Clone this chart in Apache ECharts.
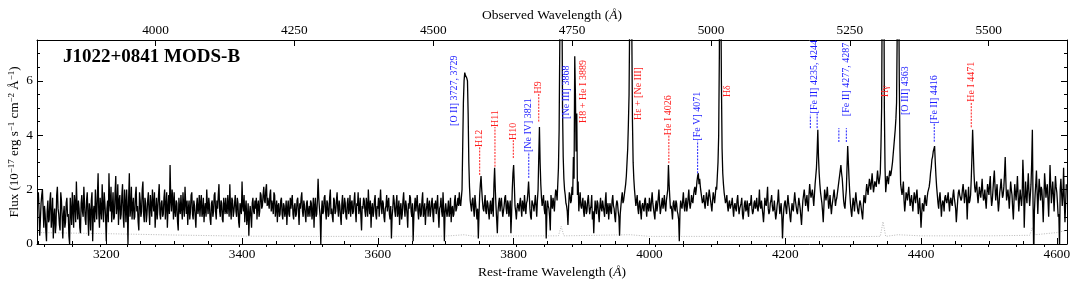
<!DOCTYPE html>
<html><head><meta charset="utf-8">
<script src="https://cdn.jsdelivr.net/npm/echarts@6/dist/echarts.min.js"></script>
<style>html,body{margin:0;padding:0;background:#fff}#c{width:1080px;height:288px}</style>
</head><body><div id="c"></div>
<script>
// ---------------- data ----------------
const chartTitle = 'J1022+0841 MODS-B';
const redshift = 0.2223;
const restMin = 3098, restMax = 4615;
const fluxMin = 0, fluxMax = 7.5;
const specStart = 3100;   // first rest-frame wavelength (Å); even pixels every 2 Å, odd ones in between

// flux at 3100, 3102, ... (10^-17 erg/s/cm2/Å)
const f3100 = [1.9,0.3,1.5,2.0,0.6,1.1,0.1,1.6,0.9,1.9, 1.0,0.2,1.3,0.7,2.1,1.1,0.5,1.6,0.2,1.4, 0.8,1.7,1.1,0.0,1.2,1.9,0.6,1.5,2.3,0.9, 1.3,0.4,1.8,1.0,1.5,0.7,1.9,0.3,1.2,1.6, 0.1,1.4,2.0,0.9,2.6,0.6,1.3,2.2,0.8,1.5];
const f3200 = [0.1,1.6,2.6,1.2,0.8,1.9,1.0,2.5,1.4,0.7, 1.8,1.1,2.2,0.6,1.5,2.0,0.0,2.6,1.3,0.9, 1.7,1.0,2.1,1.4,0.5,1.6,1.2,2.3,0.8,1.5, 1.1,1.9,0.7,1.4,2.0,1.2,0.6,1.7,1.3,2.2, 0.9,1.6,1.1,2.0,1.4,0.6,1.8,2.9,1.2,1.6];
const f3300 = [1.9,1.0,1.5,0.5,1.3,1.8,0.9,1.4,2.1,1.1, 0.7,1.6,1.2,1.9,0.9,1.4,0.6,1.7,1.3,1.0, 1.8,1.2,0.8,1.5,2.0,1.1,1.4,0.7,1.6,1.2, 1.9,0.9,1.3,2.2,1.0,1.5,0.8,1.4,1.7,1.1, 1.4,2.2,0.9,1.6,1.2,1.8,1.0,1.5,0.6,1.3];
const f3400 = [2.3,1.2,0.8,1.6,1.0,0.3,1.4,0.6,1.7,1.1, 1.3,0.9,1.6,1.2,1.8,1.4,2.1,1.5,2.2,1.7, 1.3,2.0,1.6,1.1,1.8,1.3,0.8,1.5,1.1,1.7, 0.9,1.4,1.2,0.7,1.6,1.0,1.3,1.8,0.9,1.5, 1.1,1.7,0.7,1.3,1.9,1.0,1.4,0.8,1.6,1.2];
const f3500 = [1.0,1.5,1.2,0.6,1.7,1.1,2.4,1.3,0.0,1.6, 1.2,1.8,0.9,1.5,1.1,2.0,1.3,0.8,1.6,1.2, 1.9,1.0,1.4,0.7,1.8,1.2,1.5,0.9,1.7,1.3, 1.0,1.6,1.2,1.9,0.8,1.4,1.1,1.7,0.5,1.3, 1.6,1.0,1.4,2.0,1.1,0.6,1.5,1.2,1.8,0.9];
const f3600 = [1.3,1.0,2.0,1.1,1.5,0.8,1.4,1.2,1.7,0.9, 0.2,1.3,1.6,1.0,1.8,1.2,0.7,1.5,1.1,1.9, 1.0,1.4,0.6,1.3,1.7,1.0,0.1,1.4,1.2,1.8, 0.9,1.5,1.1,1.9,1.2,0.7,1.4,1.0,1.6,1.2, 1.7,0.8,1.3,1.1,1.8,0.6,1.4,1.2,1.9,0.1];
const f3700 = [1.5,1.0,1.6,1.2,0.8,1.4,1.1,1.8,1.3,1.7, 1.9,1.4,2.0,5.2,6.3,6.2,6.0,3.0,1.6,1.2, 1.7,1.0,1.5,0.9,0.2,1.8,2.5,1.6,1.2,1.8, 1.1,1.5,0.9,1.6,1.3,1.0,2.8,1.4,0.4,1.5, 1.2,1.7,1.0,1.4,1.8,1.1,1.5,1.3,0.4,2.0];
const f3800 = [2.9,1.4,0.9,1.5,1.2,1.7,1.0,1.4,1.8,1.1, 1.6,2.3,1.3,0.9,1.5,1.2,1.8,1.0,2.0,4.3, 2.2,1.4,1.8,1.1,0.2,1.6,1.3,0.5,1.5,1.7, 1.2,2.0,1.6,2.8,7.5,14,5.0,2.4,1.8,1.4, 0.7,1.9,1.5,2.1,3.2,6.9,3.4,1.8,1.2,1.9];
const f3900 = [1.3,1.7,1.0,1.5,1.2,1.8,1.1,1.4,0.9,0.4, 1.6,1.1,1.5,0.8,1.7,1.2,1.4,1.0,1.9,1.3, 0.9,1.5,1.1,1.8,1.3,0.8,1.6,1.2,0.3,1.4, 1.9,1.6,2.0,2.5,3.5,5.5,12,8.0,3.0,2.0, 1.4,1.8,1.1,1.6,0.9,1.5,1.2,1.7,1.0,1.4];
const f4000 = [1.7,1.2,1.9,1.3,0.9,1.6,1.4,2.0,1.1,1.5, 1.3,1.8,1.2,1.6,2.9,1.7,1.4,0.9,1.6,1.2, 1.5,1.1,0.1,1.6,1.3,1.9,1.2,1.7,1.4,2.0, 1.3,1.8,1.5,2.0,1.8,2.3,2.6,2.4,1.9,1.5, 1.8,1.3,1.9,1.4,2.0,1.6,1.2,1.9,1.5,2.1];
const f4100 = [2.5,4.0,14,6.0,2.6,1.9,1.5,1.8,1.2,1.6, 1.3,1.7,1.0,1.5,1.2,1.8,1.1,1.4,1.7,0.9, 1.5,1.2,1.6,1.0,1.4,1.8,1.1,1.5,1.3,1.7, 1.2,2.0,1.3,1.6,0.8,1.7,1.4,2.1,1.1,1.5, 1.8,1.2,1.6,0.9,1.4,2.0,1.1,1.5,0.2,1.3];
const f4200 = [1.6,1.1,1.8,1.3,0.8,1.5,1.2,1.9,1.4,1.1, 1.7,1.3,0.7,1.6,2.0,1.4,1.8,1.2,2.2,1.7, 2.0,1.4,2.2,2.8,4.2,2.6,1.9,1.5,0.8,2.0, 1.6,2.1,1.3,1.8,1.1,1.6,2.0,1.4,1.7,2.1, 2.5,2.9,2.4,1.6,1.3,2.0,3.6,2.4,1.5,1.0];
const f4300 = [1.7,1.2,1.9,1.4,1.1,1.6,1.3,0.9,1.8,1.5, 2.2,1.8,2.4,2.0,2.6,1.9,2.3,2.1,2.7,2.2, 2.6,5.0,15,5.0,1.9,2.5,2.2,2.7,2.6,3.0, 3.6,4.2,5.2,14,6.0,2.2,1.8,2.3,1.2,1.9, 1.6,2.1,1.4,1.8,1.2,1.9,1.5,2.0,1.1,1.7];
const f4400 = [0.6,1.5,1.2,1.8,1.4,1.9,2.1,2.6,3.1,3.4, 3.6,2.5,1.8,1.3,1.9,1.0,1.6,1.2,1.8,1.5, 1.9,1.2,1.7,1.4,2.0,1.5,0.8,1.6,2.0,1.7, 1.7,2.2,1.5,2.0,0.9,2.1,1.6,2.4,4.2,2.6, 1.9,2.3,1.5,2.1,1.7,2.4,1.6,2.0,1.3,2.2];
const f4500 = [1.8,2.5,1.4,2.0,2.7,1.6,2.2,1.2,1.9,2.4, 1.7,2.1,3.2,1.6,2.0,1.3,2.3,1.8,0.9,2.2, 1.6,2.5,1.2,2.0,1.4,3.1,0.6,2.3,1.5,2.6, 1.4,2.2,4.2,-0.5,1.8,2.7,1.1,2.4,1.6,2.0, 0.8,2.6,1.7,2.2,1.0,2.9,1.5,2.3,1.2,2.5];
const f4600 = [1.9,1.0,-0.2,2.4,1.4,2.8,0.8,2.2];

// flux at 3101, 3103, ...
const o3100 = [1.2,0.9,1.8,1.3,1.4,0.5,1.2,0.8,1.6,0.6, 1.7,1.0,0.4,1.8,1.3,0.7,1.9,1.0,1.1,0.6, 1.5,1.0,0.3,1.7,0.7,1.3,1.8,0.8,1.4,1.6, 0.6,1.5,1.2,2.1,0.9,1.6,1.1,1.5,0.5,1.9, 1.2,0.8,1.3,1.8,1.1,1.7,0.9,1.4,1.9,1.0];
const o3200 = [1.3,0.8,1.5,2.1,1.3,0.9,1.9,1.1,2.2,1.6, 0.9,1.8,1.0,2.0,0.8,1.3,1.7,1.0,2.1,1.4, 0.9,1.8,1.2,0.8,1.9,1.0,2.0,1.1,1.7,0.8, 1.6,1.2,1.8,1.0,1.5,1.9,1.2,0.9,1.8,1.1, 1.5,1.0,1.7,0.9,1.9,1.3,1.1,1.6,2.0,0.9];
const o3300 = [1.2,1.6,0.8,1.7,1.1,1.3,1.9,1.0,1.5,1.6, 1.3,0.9,1.8,1.1,1.6,1.0,1.4,1.1,1.8,1.5, 1.0,1.7,1.3,1.0,1.4,1.7,0.9,1.5,1.0,1.8, 1.2,1.6,1.8,1.2,1.6,0.9,1.7,1.1,1.2,1.8, 1.0,1.3,1.7,1.0,1.5,1.2,1.7,0.8,1.5,1.1];
const o3400 = [1.4,1.8,1.3,0.7,1.5,1.1,1.0,1.5,1.2,1.6, 1.7,1.4,1.0,1.9,1.3,1.8,1.6,2.0,1.4,1.5, 1.8,1.2,1.4,1.9,1.0,1.6,1.4,1.0,1.6,1.1, 1.5,1.0,1.6,1.3,1.1,1.7,1.6,1.1,1.4,1.0, 1.6,1.2,1.5,1.7,1.2,1.6,1.1,1.5,1.0,1.4];
const o3500 = [1.6,0.9,1.7,1.4,1.0,1.6,1.7,1.0,1.2,1.1, 1.7,1.2,1.6,1.0,1.7,1.1,1.0,1.7,1.1,1.6, 1.3,1.6,1.0,1.5,1.1,1.7,1.0,1.5,1.1,1.8, 1.5,1.1,1.6,1.2,1.5,1.9,1.3,1.0,1.4,1.7, 1.2,1.7,1.0,1.4,1.6,1.3,1.0,1.6,1.1,1.4];
const o3600 = [1.7,1.5,1.4,1.6,1.0,1.3,1.8,1.5,1.1,1.4, 1.0,1.8,1.2,1.5,1.0,1.6,1.3,0.9,1.6,1.3, 1.6,1.1,1.5,1.8,1.2,1.5,1.0,1.7,1.5,1.2, 1.4,1.0,1.6,1.0,1.5,1.2,1.7,1.4,1.0,1.5, 1.1,1.5,1.6,1.4,1.1,1.3,1.7,1.0,1.3,1.2];
const o3700 = [1.2,1.3,1.0,1.7,1.3,1.0,1.6,1.2,1.5,1.4, 1.5,1.7,3.6,6.0,6.2,6.1,4.8,2.1,1.4,1.6, 1.3,1.8,1.2,1.3,1.1,2.2,2.0,1.3,1.5,1.2, 1.6,1.2,1.4,1.1,1.7,2.2,2.0,0.9,1.2,1.7, 1.5,1.3,1.2,1.7,1.3,1.6,1.0,1.6,1.1,2.6];
const o3800 = [2.2,1.2,1.3,1.4,1.5,1.3,1.6,1.2,1.4,1.5, 1.9,1.8,1.0,1.6,1.4,1.5,1.4,1.6,3.2,3.0, 1.7,1.6,1.3,1.6,1.2,1.4,1.0,1.8,1.3,1.5, 1.7,1.9,2.2,4.2,11,10,3.2,2.0,1.5,1.2, 1.4,1.8,1.6,1.8,2.4,5.5,4.8,2.3,1.6,1.4];
const o3900 = [1.5,1.2,1.6,1.1,1.6,1.4,1.3,1.8,1.2,1.1, 1.3,1.6,1.1,1.4,1.3,1.6,1.2,1.6,1.1,1.5, 1.3,1.2,1.6,1.4,1.0,1.4,1.5,1.0,1.1,1.7, 1.5,1.8,2.2,3.0,4.4,8.5,14,4.5,2.4,1.7, 1.6,1.3,1.5,1.2,1.4,1.3,1.6,1.3,1.5,1.2];
const o4000 = [1.4,1.6,1.5,1.1,1.4,1.2,1.7,1.5,1.3,1.7, 1.5,1.4,1.6,2.0,2.2,1.3,1.2,1.5,1.3,1.6, 1.2,0.9,1.2,1.4,1.6,1.4,1.5,1.2,1.7,1.5, 1.5,1.6,1.8,2.1,2.0,2.5,2.2,2.1,1.7,1.6, 1.5,1.6,1.7,1.7,1.8,1.4,1.6,1.7,1.8,2.0];
const o4100 = [3.0,7.0,10,3.5,2.2,1.7,1.6,1.4,1.5,1.3, 1.5,1.3,1.4,1.3,1.6,1.4,1.3,1.5,1.1,1.2, 1.6,1.3,1.2,1.5,1.5,1.3,1.2,1.6,1.4,1.3, 1.5,1.4,1.6,1.1,1.2,1.5,1.7,1.3,1.2,1.6, 1.4,1.3,1.2,1.1,1.6,1.5,1.3,1.0,0.9,1.5];
const o4200 = [1.3,1.5,1.5,1.0,1.2,1.3,1.6,1.6,1.2,1.4, 1.5,1.0,1.2,1.8,1.7,1.6,1.4,1.8,1.9,1.7, 1.7,1.8,2.5,3.4,3.2,2.2,1.7,1.2,1.4,1.8, 1.8,1.7,1.5,1.4,1.4,1.8,1.7,1.6,1.9,2.3, 2.7,2.6,2.0,1.4,1.7,2.8,3.0,1.9,1.2,1.4];
const o4300 = [1.5,1.6,1.6,1.2,1.4,1.5,1.1,1.4,1.6,1.9, 2.0,2.1,2.2,2.3,2.2,2.1,2.2,2.4,2.4,2.4, 3.6,10,12,2.8,2.2,2.4,2.5,2.5,2.8,3.3, 3.9,4.6,8.0,10,3.5,2.0,2.0,1.6,1.5,1.8, 1.9,1.7,1.6,1.5,1.6,1.7,1.8,1.6,1.4,1.2];
const o4400 = [1.1,1.4,1.6,1.5,1.7,2.0,2.3,2.8,3.2,3.5, 3.0,2.1,1.5,1.7,1.5,1.4,1.5,1.7,1.6,1.7, 1.5,1.6,1.5,1.8,1.7,1.3,1.2,1.9,1.8,1.6, 2.0,1.9,1.8,1.7,1.6,1.5,1.8,3.2,3.4,2.1, 2.1,1.8,1.8,1.9,2.0,1.9,1.7,1.6,1.8,2.0];
const o4500 = [2.2,1.8,1.6,2.4,2.1,1.9,1.6,1.5,2.1,2.0, 1.8,2.6,2.3,1.8,1.7,1.8,2.0,1.3,1.6,1.9, 2.0,1.8,1.6,1.7,1.8,2.4,1.5,1.8,2.1,1.9, 1.8,3.0,1.5,1.2,2.2,1.9,1.8,2.0,2.1,1.5, 1.7,2.2,2.0,1.6,1.9,2.2,1.9,1.8,1.9,2.1];
const o4600 = [1.5,1.1,2.0,1.9,1.8,1.6,1.5];

// error spectrum (grey dotted)
const errWave = [3100,3200,3300,3400,3500,3600,3700,3727,3740,3866,3870,3874,3972,4000,4100,4200,4300,4340,4344,4348,4366,4400,4500,4560,4564,4568,4600,4614];
const errFlux = [0.42,0.38,0.33,0.29,0.28,0.28,0.29,0.34,0.29,0.30,0.65,0.30,0.34,0.28,0.28,0.27,0.27,0.28,0.82,0.28,0.34,0.30,0.30,0.32,0.60,0.34,0.42,0.50];

// axis ticks
const restTicks = [3200,3400,3600,3800,4000,4200,4400,4600];
const obsTicks = [4000,4250,4500,4750,5000,5250,5500];
const fluxTicks = [0,2,4,6];

// line identifications
const lineLabels = ['[O II] 3727, 3729','H12','H11','H10','[Ne IV] 3821','H9','[Ne III] 3868','H8 + He I 3889','H\u03b5 + [Ne III]','He I 4026','[Fe V] 4071','H\u03b4','[Fe II] 4235, 4244','[Fe II] 4277, 4287','H\u03b3','[O III] 4363','[Fe II] 4416','He I 4471'];
const labelWave  = [3712,3750,3772.5,3799.5,3822.3,3837,3877,3902.8,3983.8,4028.6,4071,4114.6,4242.6,4290.5,4347.9,4377,4419.5,4474];
const labelFlux  = [4.34,3.57,4.30,3.82,3.38,5.53,4.60,4.45,4.56,4.00,3.80,5.40,4.80,4.70,5.40,4.74,4.43,5.23];
const labelIsRed = [0,1,1,1,0,1,0,1,1,1,0,1,0,0,1,0,0,1];
const dashWave  = [3750,3772.5,3799.5,3822.3,3837,4028.6,4071,4237,4247,4279,4290,4419.5,4474];
const dashLow   = [2.54,2.84,3.16,2.43,4.50,2.97,2.60,4.26,4.26,3.75,3.75,3.76,4.29];
const dashHigh  = [3.57,4.30,3.82,3.38,5.53,4.00,3.80,4.75,4.80,4.26,4.26,4.43,5.23];
const dashIsRed = [1,1,1,0,1,1,0,0,0,0,0,0,1];

// ---------------- chart ----------------
const SERIF = '"Liberation Serif", "DejaVu Serif", serif';
const RED = '#ff1c1c', BLUE = '#1c1cff';
const fluxEven = [].concat(f3100,f3200,f3300,f3400,f3500,f3600,f3700,f3800,f3900,f4000,f4100,f4200,f4300,f4400,f4500,f4600);
const fluxOdd  = [].concat(o3100,o3200,o3300,o3400,o3500,o3600,o3700,o3800,o3900,o4000,o4100,o4200,o4300,o4400,o4500,o4600);
const specData = [];
fluxEven.forEach((v, i) => {
  specData.push([specStart + 2 * i, v]);
  if (i < fluxOdd.length) specData.push([specStart + 2 * i + 1, fluxOdd[i]]);
});
const errData = errWave.map((w, i) => [w, errFlux[i]]);

const restMinor = []; for (let v = 3100; v <= 4600; v += 50) restMinor.push(v);
const obsMinor = []; for (let v = 3800; v <= 5650; v += 50) obsMinor.push(v);
const fluxMinor = []; for (let v = 0.5; v < 7.5; v += 0.5) fluxMinor.push(v);

const plain = v => String(Math.round(v));
const axisText = { fontFamily: SERIF, fontSize: 13.3, color: '#000', formatter: plain };
const lineBlack = { show: true, onZero: false, lineStyle: { color: '#000', width: 1 } };

function xAx(opts) {
  return Object.assign({
    type: 'value', gridIndex: 0, min: restMin, max: restMax, scale: true,
    axisLine: lineBlack, splitLine: { show: false }, axisLabel: { show: false },
    axisTick: { show: false }, nameMoveOverlap: false
  }, opts);
}
function yAx(opts) {
  return Object.assign({
    type: 'value', min: fluxMin, max: fluxMax,
    axisLine: lineBlack, splitLine: { show: false }, axisLabel: { show: false },
    axisTick: { show: false }, nameMoveOverlap: false
  }, opts);
}

const obsMin = restMin * (1 + redshift), obsMax = restMax * (1 + redshift);

const option = {
  animation: false,
  backgroundColor: '#fff',
  title: {
    text: chartTitle, left: 63, top: 48, padding: 0,
    textStyle: { fontFamily: SERIF, fontWeight: 'bold', fontSize: 19, color: '#000' }
  },
  grid: { left: 37, right: 13, top: 40, bottom: 44, containLabel: false, outerBoundsMode: 'none' },
  xAxis: [
    xAx({
      position: 'bottom',
      name: 'Rest-frame Wavelength ({a|\u00c5})', nameLocation: 'middle', nameGap: 21,
      nameTextStyle: { fontFamily: SERIF, fontSize: 13.5, color: '#000',
        rich: { a: { fontFamily: SERIF, fontSize: 13.5, fontStyle: 'italic', color: '#000' } } },
      axisLabel: Object.assign({ show: true, margin: 4, customValues: restTicks }, axisText),
      axisTick: { show: true, inside: true, length: 6, customValues: restTicks, lineStyle: { color: '#000' } }
    }),
    xAx({
      position: 'top', min: obsMin, max: obsMax,
      name: 'Observed Wavelength ({a|\u00c5})', nameLocation: 'middle', nameGap: 18,
      nameTextStyle: { fontFamily: SERIF, fontSize: 13.5, color: '#000',
        rich: { a: { fontFamily: SERIF, fontSize: 13.5, fontStyle: 'italic', color: '#000' } } },
      axisLabel: Object.assign({ show: true, margin: 3, customValues: obsTicks }, axisText),
      axisTick: { show: true, inside: true, length: 6, customValues: obsTicks, lineStyle: { color: '#000' } }
    }),
    xAx({ position: 'bottom', axisLine: { show: false },
      axisTick: { show: true, inside: true, length: 3, customValues: restMinor, lineStyle: { color: '#000' } } }),
    xAx({ position: 'top', min: obsMin, max: obsMax, axisLine: { show: false },
      axisTick: { show: true, inside: true, length: 3, customValues: obsMinor, lineStyle: { color: '#000' } } })
  ],
  yAxis: [
    yAx({
      position: 'left',
      name: 'Flux (10{s|\u221217} erg s{s|\u22121} cm{s|\u22122} \u00c5{s|\u22121})',
      nameLocation: 'middle', nameGap: 14, nameRotate: 90,
      nameTextStyle: { fontFamily: SERIF, fontSize: 13, color: '#000', lineHeight: 16,
        rich: { s: { fontFamily: SERIF, fontSize: 9, color: '#000', verticalAlign: 'top', lineHeight: 9 } } },
      axisLabel: Object.assign({ show: true, margin: 4, customValues: fluxTicks }, axisText),
      axisTick: { show: true, inside: true, length: 6, customValues: fluxTicks, lineStyle: { color: '#000' } }
    }),
    yAx({ position: 'right',
      axisTick: { show: true, inside: true, length: 6, customValues: fluxTicks, lineStyle: { color: '#000' } } }),
    yAx({ position: 'left', axisLine: { show: false },
      axisTick: { show: true, inside: true, length: 3, customValues: fluxMinor, lineStyle: { color: '#000' } } }),
    yAx({ position: 'right', axisLine: { show: false },
      axisTick: { show: true, inside: true, length: 3, customValues: fluxMinor, lineStyle: { color: '#000' } } })
  ],
  series: [
    {
      type: 'line', name: 'error', data: errData, xAxisIndex: 0, yAxisIndex: 0,
      showSymbol: false, symbol: 'none', clip: true, z: 1,
      lineStyle: { color: '#b8b8b8', width: 1, type: [1, 1.5] }
    },
    {
      type: 'line', name: 'flux', data: specData, xAxisIndex: 0, yAxisIndex: 0,
      showSymbol: false, symbol: 'none', clip: true, z: 2,
      lineStyle: { color: '#000', width: 1.3 }
    },
    {
      type: 'custom', name: 'dashes', xAxisIndex: 0, yAxisIndex: 0, z: 3, clip: false,
      data: dashWave.map((w, i) => [w, dashLow[i], dashHigh[i]]),
      renderItem: function (params, api) {
        const i = params.dataIndex;
        const a = api.coord([api.value(0), api.value(1)]);
        const b = api.coord([api.value(0), api.value(2)]);
        return { type: 'line', shape: { x1: a[0], y1: a[1], x2: b[0], y2: b[1] },
          style: { stroke: dashIsRed[i] ? RED : BLUE, lineWidth: 1, lineDash: [2, 1.2] } };
      }
    },
    {
      type: 'custom', name: 'labels', xAxisIndex: 0, yAxisIndex: 0, z: 4, clip: false,
      data: labelWave.map((w, i) => [w, labelFlux[i]]),
      renderItem: function (params, api) {
        const i = params.dataIndex;
        const p = api.coord([api.value(0), api.value(1)]);
        return { type: 'text', x: p[0], y: p[1], rotation: Math.PI / 2,
          style: { text: lineLabels[i], fill: labelIsRed[i] ? RED : BLUE,
            fontFamily: SERIF, fontSize: 10, align: 'left', verticalAlign: 'middle' } };
      }
    }
  ]
};

const chart = echarts.init(document.getElementById('c'), null, { renderer: 'canvas' });
chart.setOption(option);
</script>
</body></html>
